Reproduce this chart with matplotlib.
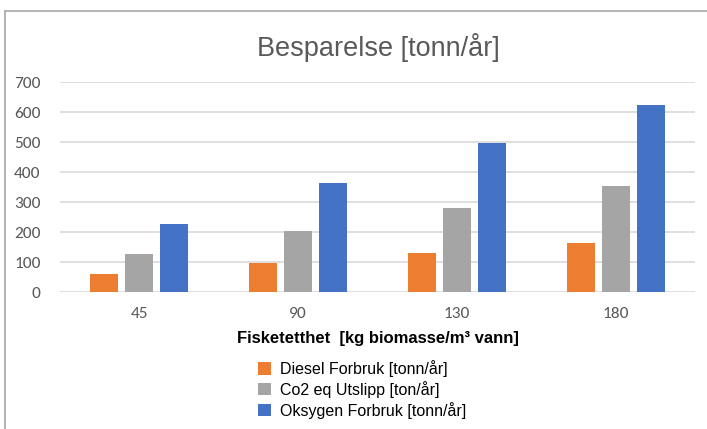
import matplotlib
matplotlib.use("Agg")
import matplotlib.pyplot as plt
import numpy as np
from matplotlib import font_manager
from matplotlib.patches import Rectangle

names = {f.name for f in font_manager.fontManager.ttflist}
narrow = "Liberation Sans Narrow" if "Liberation Sans Narrow" in names else "Liberation Sans"

categories = ["45", "90", "130", "180"]
series_names = ["Diesel Forbruk [tonn/år]", "Co2 eq Utslipp [ton/år]", "Oksygen Forbruk [tonn/år]"]
diesel = [59, 96, 130, 163]
co2 = [127, 203, 280, 352]
oksygen = [228, 362, 497, 623]
yticks = [0, 100, 200, 300, 400, 500, 600, 700]
colors = ["#ED7D31", "#A5A5A5", "#4472C4"]

fig = plt.figure(figsize=(7.07, 4.29), dpi=100)
fig.patches.append(Rectangle((5/707, -0.01), 1.0, 1 - 11/429 + 0.01, transform=fig.transFigure,
                             fill=False, edgecolor="#A6A6A6", linewidth=1.2))

ax = fig.add_axes([60/707, 1 - 292/429, 635/707, 210/429])
x = np.arange(len(categories))
w = 0.176
step = 0.22
handles = []
for i, (vals, c, n) in enumerate(zip([diesel, co2, oksygen], colors, series_names)):
    h = ax.bar(x + (i - 1) * step, vals, width=w, color=c, label=n, zorder=3)
    handles.append(h)

ax.set_xlim(-0.5, len(categories) - 0.5)
ax.set_ylim(0, 700)
ax.set_yticks(yticks)
ax.set_yticklabels([str(t) for t in yticks])
ax.set_xticks(x)
ax.set_xticklabels(categories)
ax.yaxis.grid(True, color="#D9D9D9", linewidth=1.2, zorder=0)
ax.set_axisbelow(True)
for s in ax.spines.values():
    s.set_visible(False)
ax.tick_params(axis="both", length=0, labelsize=12.5, labelcolor="#595959")
ax.tick_params(axis="y", pad=14)
ax.tick_params(axis="x", pad=11)
for lab in ax.get_xticklabels() + ax.get_yticklabels():
    lab.set_fontfamily("Carlito" if "Carlito" in names else "Open Sans")

fig.text(378/707, 1 - 47/429, "Besparelse [tonn/år]", ha="center", va="center",
         fontsize=19.5, color="#595959", family=narrow)
fig.text(378/707, 1 - 339/429, "Fisketetthet  [kg biomasse/m³ vann]", ha="center", va="center",
         fontsize=12, fontweight="bold", color="black", family="Liberation Sans")

fig.legend(handles=handles, labels=series_names, loc="upper left",
           bbox_to_anchor=(258/707, 1 - 360/429), frameon=False,
           prop={"family": narrow, "size": 11.5}, handlelength=0.8, handleheight=0.8,
           handletextpad=0.6, labelspacing=0.25, borderpad=0, borderaxespad=0)

fig.savefig("out.png", dpi=100)
